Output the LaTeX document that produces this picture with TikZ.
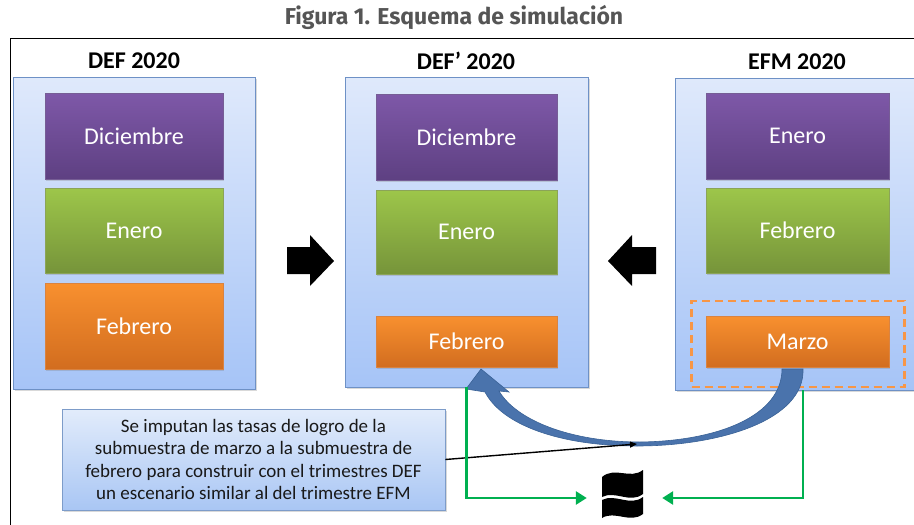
\documentclass[tikz,border=0pt]{standalone}
\usepackage{fontspec}
\setmainfont{Carlito}
\newfontfamily\titlefont{Fira Sans}
\usetikzlibrary{shadows,arrows.meta}
\definecolor{pantop}{HTML}{DFE9FB}
\definecolor{panbot}{HTML}{A6C4F7}
\definecolor{panborder}{HTML}{6E91C6}
\definecolor{purtop}{HTML}{7E58A8}
\definecolor{purbot}{HTML}{5E4082}
\definecolor{grntop}{HTML}{9DC64A}
\definecolor{grnbot}{HTML}{76943A}
\definecolor{orgtop}{HTML}{F8902F}
\definecolor{orgbot}{HTML}{D26D1F}
\definecolor{tbtop}{HTML}{E2ECFB}
\definecolor{tbbot}{HTML}{A9C6F4}
\definecolor{tbborder}{HTML}{7D9CC9}
\definecolor{curvefill}{HTML}{4A73AC}
\definecolor{curvedraw}{HTML}{3A6296}
\definecolor{linkgreen}{HTML}{00B050}
\definecolor{dashorange}{HTML}{F79646}
\definecolor{titlegray}{HTML}{555555}
\tikzset{
  panel/.style={draw=panborder, line width=0.9pt, top color=pantop, bottom color=panbot,
    inner sep=0pt, drop shadow={shadow xshift=2pt, shadow yshift=-2pt, opacity=0.3}},
  mbox/.style={text=white, font=\fontsize{24}{28}\selectfont, inner sep=0pt,
    minimum height=86pt, drop shadow={shadow xshift=1pt, shadow yshift=-1.5pt, opacity=0.3}},
  purplebox/.style={mbox, top color=purtop, bottom color=purbot, draw=purbot!85, line width=0.5pt},
  greenbox/.style={mbox, top color=grntop, bottom color=grnbot, draw=grnbot!85, line width=0.5pt},
  orangebox/.style={mbox, top color=orgtop, bottom color=orgbot, draw=orgbot!85, line width=0.5pt},
  header/.style={font=\fontsize{24}{28}\selectfont\bfseries, inner sep=0pt},
  link/.style={draw=linkgreen, line width=2.8pt, -{Triangle[length=11pt,width=13pt]}},
  blockarrow/.style={fill=black},
}
\begin{document}
\begin{tikzpicture}[x=1pt,y=-1pt]
\useasboundingbox (0,0) rectangle (914,525);
\clip (0,0) rectangle (914,525);
% frame
\draw[line width=1.5pt] (10.5,38.5) rectangle (940,560);
% title
\node[font=\titlefont\bfseries\fontsize{23}{26}\selectfont, text=titlegray, inner sep=0pt] (title) at (454,17)
  {Figura 1. Esquema de simulación};
% headers
\node[header] (h1) at (134,61) {DEF 2020};
\node[header] (h2) at (466,61) {DEF’ 2020};
\node[header] (h3) at (797,62) {EFM 2020};
% panels
\node[panel, minimum width=242pt, minimum height=312pt] (p1) at (134,233) {};
\node[panel, minimum width=243pt, minimum height=310pt] (p2) at (466.5,232) {};
\node[panel, minimum width=243pt, minimum height=312pt] (p3) at (796.5,234) {};
% panel 1 boxes
\node[purplebox, minimum width=178pt] (d1) at (134,136) {Diciembre};
\node[greenbox, minimum width=178pt, minimum height=85pt] (e1) at (134,230.5) {Enero};
\node[orangebox, minimum width=178pt] (f1) at (134,326) {Febrero};
% panel 2 boxes
\node[purplebox, minimum width=181pt] (d2) at (466.5,137) {Diciembre};
\node[greenbox, minimum width=181pt, minimum height=84pt] (e2) at (466.5,232) {Enero};
\node[orangebox, minimum width=181pt, minimum height=51pt] (f2) at (466.5,341.5) {Febrero};
% panel 3 boxes
\node[purplebox, minimum width=183pt] (en3) at (797.5,136) {Enero};
\node[greenbox, minimum width=183pt, minimum height=85pt] (fe3) at (797.5,230.5) {Febrero};
\node[orangebox, minimum width=183pt, minimum height=51pt] (m3) at (797.5,341.5) {Marzo};
\node[draw=dashorange, line width=2.5pt, dash pattern=on 8pt off 5pt, minimum width=213pt, minimum height=86pt, inner sep=0pt] (dash) at (798,344) {};
% block arrows
\path[blockarrow] (287,247) -- (310,247) -- (310,235) -- (334,261) -- (310,286) -- (310,274) -- (287,274) -- cycle;
\path[blockarrow] (656,247) -- (632,247) -- (632,235) -- (608,261) -- (632,286) -- (632,274) -- (656,274) -- cycle;
% curved arrow
\path[fill=curvefill, draw=curvedraw, line width=0.6pt]
  (803,369) .. controls (805,420) and (720,446) .. (637,446)
  .. controls (560,446) and (502,425) .. (485,392)
  -- (466,389) -- (481,369) -- (509,392) -- (499,391)
  .. controls (516,420) and (570,442) .. (640,442)
  .. controls (720,441) and (782,415) .. (782,369) -- cycle;
% icon
\node[inner sep=0pt, minimum width=41pt, minimum height=47pt] (icon) at (622.5,498) {};
\fill[black] (602,477) .. controls (615,466) and (630,480) .. (643,470) -- (643,494)
  .. controls (630,504) and (615,490) .. (602,497) -- cycle;
\fill[black] (602,500) .. controls (615,493) and (630,507) .. (643,497) -- (643,514)
  .. controls (630,524) and (615,510) .. (602,518) -- cycle;
% text box
\node[draw=tbborder, line width=0.9pt, top color=tbtop, bottom color=tbbot, minimum width=383pt, minimum height=101pt,
  align=center, font=\fontsize{19}{22.5}\selectfont, text=black!90, inner sep=0pt,
  drop shadow={shadow xshift=2pt, shadow yshift=-2pt, opacity=0.3}] (tb) at (253.5,459.5)
  {Se imputan las tasas de logro de la\\submuestra de marzo a la submuestra de\\febrero para construir con el trimestres DEF\\un escenario similar al del trimestre EFM};
\coordinate (curvebottom) at (637,444);
\draw[line width=1.4pt, -{Triangle[length=7pt,width=6pt]}] (tb.east) -- (curvebottom);
% green links
\draw[link, shorten >=15pt] (p2.south) |- (icon.west);
\draw[link, shorten >=19pt] ([xshift=6.5pt]p3.south) |- (icon.east);
\end{tikzpicture}
\end{document}
